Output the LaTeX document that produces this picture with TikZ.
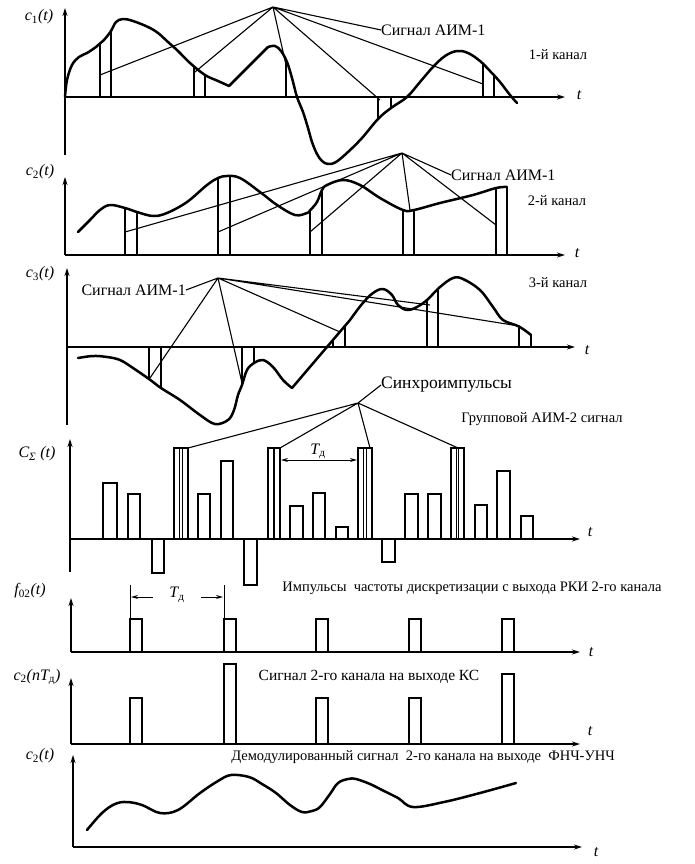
\documentclass[tikz,border=0pt]{standalone}
\usepackage{fontspec}
\setmainfont{Liberation Serif}
\usetikzlibrary{arrows.meta}
\begin{document}
\begin{tikzpicture}[x=1pt,y=-1pt,
 ax/.style={line width=1.3pt,-{Stealth[length=8pt,width=5pt]}},
 sig/.style={line width=2.5pt,line join=round,line cap=round},
 pl/.style={line width=1.8pt},
 cl/.style={line width=1.1pt},
 bar/.style={line width=1.6pt},
 lab/.style={font=\fontsize{16}{16}\selectfont, inner sep=0pt},
 sm/.style={font=\fontsize{14.5}{14.5}\selectfont, inner sep=0pt},
 axl/.style={font=\fontsize{16}{16}\selectfont\itshape, inner sep=0pt},
 dim/.style={line width=1pt,-{Stealth[length=7pt,width=4pt]}},
]
\useasboundingbox (0,0) rectangle (694,864);

% ---------------- panel 1 ----------------
\draw[ax] (65,155) -- (65,8);
\draw[ax] (65,97) -- (565,97);
\node[axl] (t1) at (579,95) {t};
\node[axl] (y1) at (39,17) {c\textsubscript{\upshape 1}(t)};
\draw[sig] plot[smooth,tension=0.6] coordinates {(65,97) (67,80) (72,65) (79,57) (87,53) (96,47) (100,43.5) (104,40) (111,31) (116,22) (123,19) (133,21) (148,27) (158,33) (168,42) (178,51) (190,63) (205,75) (218,81) (229,86)} -- (268,47)
 plot[smooth,tension=0.6] coordinates {(268,47) (275,46) (281,51) (287,62) (292,78) (297,97) (303,112) (308,128) (312,142) (317,154) (322,161) (328,164) (336,162) (348,152) (362,138) (378,119) (391,108) (407,97) (420,82) (433,67) (445,56) (457,51) (468,53) (480,61) (490,71) (500,82) (510,95) (517,103)};
\draw[pl] (100,97)--(100,43.5) (111,97)--(111,31) (194,97)--(194,66) (205,97)--(205,75)
 (286,97)--(286,60) (378,97)--(378,119) (391,97)--(391,108) (483,97)--(483,64) (494,97)--(494,75);
\coordinate (A1) at (273,7);
\node[lab,anchor=west] (s1) at (381,30) {Сигнал АИМ-1};
\node[sm] (k1) at (558,55) {1-й канал};
\coordinate (e11) at (100,75); \coordinate (e12) at (195,72); \coordinate (e13) at (286,65);
\coordinate (e14) at (380,100); \coordinate (e15) at (483,84);
\draw[cl] (A1)--(e11) (A1)--(e12) (A1)--(e13) (A1)--(e14) (A1)--(e15) (A1)--(s1.west);

% ---------------- panel 2 ----------------
\draw[ax] (65,255) -- (65,177);
\draw[ax] (65,255) -- (565,255);
\node[axl] (t2) at (577,253) {t};
\node[axl] (y2) at (40,172) {c\textsubscript{\upshape 2}(t)};
\draw[sig] plot[smooth,tension=0.6] coordinates {(78,232) (90,220) (100,210) (110,205) (125,208) (137,212) (153,216) (167,213) (187,202) (207,185) (218,178) (227,176) (240,178) (260,192) (277,205) (295,215) (307,213) (310,210.5) (317,202) (322,190) (327,185) (343,180) (360,185) (380,198) (403,210) (414,210) (440,203) (473,195) (496,188) (507,187)};
\draw[pl] (125,255)--(125,208) (137,255)--(137,212) (218,255)--(218,178) (230,255)--(230,176)
 (310,255)--(310,210.5) (322,255)--(322,190) (403,255)--(403,210) (414,255)--(414,210) (496,255)--(496,188) (507,255)--(507,187);
\coordinate (A2) at (402,153);
\node[lab,anchor=west] (s2) at (451,175) {Сигнал АИМ-1};
\node[sm] (k2) at (557,201) {2-й канал};
\coordinate (e21) at (125,232); \coordinate (e22) at (218,232); \coordinate (e23) at (310,232);
\coordinate (e24) at (410,210); \coordinate (e25) at (496,225);
\draw[cl] (A2)--(e21) (A2)--(e22) (A2)--(e23) (A2)--(e24) (A2)--(e25) (A2)--(s2.west);

% ---------------- panel 3 ----------------
\draw[ax] (67,425) -- (67,268);
\draw[ax] (67,347) -- (575,347);
\node[axl] (t3) at (587,350) {t};
\node[axl] (y3) at (40,274) {c\textsubscript{\upshape 3}(t)};
\draw[sig] plot[smooth,tension=0.6] coordinates {(78,358) (93,356) (107,357) (120,360) (133,368) (149,379) (161,388) (180,400) (200,415) (215,424) (228,420) (234,410) (238,395) (242,385) (247,370) (254,363) (263,360) (273,367) (283,380) (292,388)}
 -- (350,320)
 plot[smooth,tension=0.6] coordinates {(350,320) (362,304) (373,293) (383,289) (392,295) (398,305) (407,310) (417,307) (427,300) (440,287) (453,278) (463,279) (480,290) (493,307) (503,320) (519,326.5) (531,335)};
\draw[pl] (149,347)--(149,379) (161,347)--(161,388) (242,347)--(242,385) (254,347)--(254,363)
 (333,347)--(333,340) (345,347)--(345,326) (427,347)--(427,300) (438,347)--(438,289) (519,347)--(519,326.5) (531,347)--(531,335);
\coordinate (A3) at (218,278);
\node[lab,anchor=east] (s3) at (186,290) {Сигнал АИМ-1};
\node[sm] (k3) at (558,283) {3-й канал};
\coordinate (e31) at (150,378); \coordinate (e32) at (242,383); \coordinate (e33) at (340,332);
\coordinate (e34) at (430,305); \coordinate (e35) at (519,326);
\draw[cl] (A3)--(e31) (A3)--(e32) (A3)--(e33) (A3)--(e34) (A3)--(e35) (A3)--(s3.east);

% ---------------- panel 4 ----------------
\draw[ax] (70,572) -- (70,439);
\draw[ax] (70,539) -- (580,539);
\node[axl] (t4) at (590,532) {t};
\node[axl] (y4) at (37,454) {C\textsubscript{Σ} (t)};
\foreach \a/\b/\h in {103/117/483,128/140/494,152/164/573,198/210/494,221/233/461,244/257/585,290/303/506,313/325/493,336/348/527,382/395/562,405/418/494,428/441/494,475/487/505,497/510/471,521/533/516}
  \draw[bar] (\a,539) rectangle (\b,\h);
\foreach \a/\b in {174/188,268/280,358/372,451/464}{
  \draw[bar] (\a,539) rectangle (\b,448);
  \draw[line width=1pt] (\a+5.5,539) -- (\a+5.5,448) (\b-5.5,539) -- (\b-5.5,448);}
\coordinate (A4) at (358,403);
\node[font=\fontsize{17.5}{17.5}\selectfont,inner sep=0pt,anchor=west] (s4) at (381,385) {Синхроимпульсы};
\node[sm] (g4) at (542,419) {Групповой АИМ-2 сигнал};
\coordinate (e41) at (188,448); \coordinate (e42) at (280,448); \coordinate (e43) at (370,448); \coordinate (e44) at (458,448);
\draw[cl] (A4)--(e41) (A4)--(e42) (A4)--(e43) (A4)--(e44) (A4)--(s4.west);
\coordinate (d41) at (281,460); \coordinate (d42) at (357,460);
\draw[dim,{Stealth[length=7pt,width=4pt]}-{Stealth[length=7pt,width=4pt]}] (d41) -- (d42);
\node[axl,anchor=south] (T4) at (318,459) {T\textsubscript{\upshape д}};

% ---------------- panel 5 ----------------
\draw[ax] (71,652) -- (71,598);
\draw[ax] (71,652) -- (580,652);
\node[axl] (t5) at (591,652) {t};
\node[axl] (y5) at (30,591) {f\textsubscript{\upshape 02}(t)};
\foreach \a in {130,224,316,409,502}
  \draw[bar] (\a,652) rectangle (\a+12,619);
\draw[line width=1pt] (130,585) -- (130,619) (224,585) -- (224,619);
\coordinate (d51) at (153,597); \coordinate (d52) at (131,597);
\coordinate (d53) at (201,597); \coordinate (d54) at (223,597);
\draw[dim] (d51) -- (d52);
\draw[dim] (d53) -- (d54);
\node[axl] (T5) at (177,595) {T\textsubscript{\upshape д}};
\node[sm] (i5) at (472,588) {Импульсы\ \ частоты дискретизации с выхода РКИ 2-го канала};

% ---------------- panel 6 ----------------
\draw[ax] (71,744) -- (71,678);
\draw[ax] (71,744) -- (580,744);
\node[axl] (t6) at (590,731) {t};
\node[axl] (y6) at (37,677) {c\textsubscript{\upshape 2}(nT\textsubscript{\upshape д})};
\foreach \a/\h in {130/698,224/664,316/698,409/698,502/674}
  \draw[bar] (\a,744) rectangle (\a+12,\h);
\node[font=\fontsize{15.5}{15.5}\selectfont,inner sep=0pt] (i6) at (369,677) {Сигнал 2-го канала на выходе КС};

% ---------------- panel 7 ----------------
\draw[ax] (73,847) -- (73,755);
\draw[ax] (73,847) -- (582,847);
\node[axl] (t7) at (596,852) {t};
\node[axl] (y7) at (40,756) {c\textsubscript{\upshape 2}(t)};
\draw[sig] plot[smooth,tension=0.6] coordinates {(87,830) (102,813) (115,804) (127,802) (142,805) (160,813) (178,810) (200,793) (218,781) (231,775) (249,777) (262,784) (276,793) (290,805) (302,812) (312,811) (320,807) (330,794) (338,783) (348,779) (356,779) (370,784) (382,790) (398,798) (413,807) (444,802) (480,793) (516,783)};
\node[sm] (i7) at (423,757) {Демодулированный сигнал\ \ 2-го канала на выходе\ \ ФНЧ-УНЧ};
\end{tikzpicture}
\end{document}
